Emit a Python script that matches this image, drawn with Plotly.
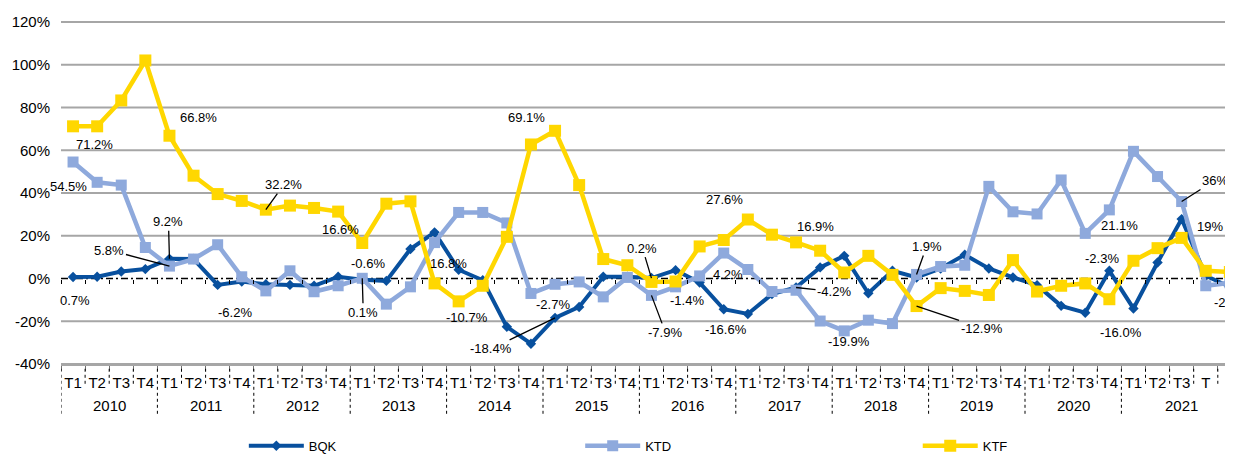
import plotly.graph_objects as go

# ---------------- data ----------------
quarter_labels = ["T1", "T2", "T3", "T4"] * 11 + ["T1", "T2", "T3", "T", "N"]
year_labels = ["2010", "2011", "2012", "2013", "2014", "2015",
               "2016", "2017", "2018", "2019", "2020", "2021"]
year_spans = [4, 4, 4, 4, 4, 4, 4, 4, 4, 4, 4, 5]

bqk = [0.7, 0.8, 3.3, 4.4, 9.2, 9.1, -3.0, -1.4, -2.7, -3.0,
       -3.4, 0.8, -0.6, -1.1, 13.8, 21.6, 4.1, -0.8, -22.6, -30.5,
       -18.4, -13.3, 0.8, 0.8, 0.2, 3.9, -1.9, -14.4, -16.6, -7.3,
       -4.2, 5.2, 10.6, -6.9, 3.6, 0.5, 4.7, 11.1, 4.7, 0.5,
       -3.1, -12.8, -16.0, 3.6, -14.0, 7.5, 27.8, 1.3, -3.9]
ktd = [54.5, 45.0, 43.7, 14.5, 5.8, 9.1, 15.8, 0.8, -5.8, 3.6,
       -6.2, -3.4, 0.1, -12.0, -3.9, 16.8, 30.9, 30.9, 26.0, -7.0,
       -2.7, -1.6, -8.6, 0.5, -7.9, -3.9, 1.2, 11.9, 4.2, -6.1,
       -5.5, -19.9, -24.5, -19.5, -21.1, 1.9, 5.6, 6.2, 43.1, 31.2,
       30.2, 46.1, 21.1, 32.1, 59.5, 47.7, 36.0, -3.4, -2.0]
ktf = [71.2, 71.2, 83.3, 102.0, 66.8, 48.1, 39.5, 36.3, 32.2, 34.1,
       33.0, 31.3, 16.6, 35.0, 36.1, -2.3, -10.7, -3.4, 19.5, 62.7,
       69.1, 43.7, 9.1, 6.2, -1.6, -1.4, 15.0, 18.0, 27.6, 20.5,
       16.9, 13.0, 2.8, 10.6, 1.7, -12.9, -4.5, -5.8, -7.7, 8.6,
       -6.1, -3.4, -2.3, -9.7, 8.3, 14.2, 19.0, 3.6, 3.0]

series_names = ["BQK", "KTD", "KTF"]

y_tick_vals = [-40, -20, 0, 20, 40, 60, 80, 100, 120]
y_tick_text = ["-40%", "-20%", "0%", "20%", "40%", "60%", "80%", "100%", "120%"]

# data labels: series, point index, text, offset right (px), offset down (px), leader line
point_labels = [
    ("KTF", 0, "71.2%", 21, 18, False),
    ("KTD", 0, "54.5%", -5, 24, False),
    ("KTF", 4, "66.8%", 29, -18, False),
    ("KTF", 8, "32.2%", 18, -25, True),
    ("KTF", 12, "16.6%", -22, -14, False),
    ("BQK", 4, "9.2%", -1, -37, True),
    ("KTD", 4, "5.8%", -60, -16, True),
    ("BQK", 0, "0.7%", 2, 23, False),
    ("KTD", 10, "-6.2%", -79, 21, False),
    ("BQK", 12, "-0.6%", 6, -16, False),
    ("KTD", 12, "0.1%", 1, 34, True),
    ("KTD", 15, "16.8%", 14, 21, False),
    ("KTF", 16, "-10.7%", 8, 16, False),
    ("KTF", 20, "69.1%", -29, -13, False),
    ("BQK", 20, "-18.4%", -64, 31, True),
    ("KTD", 20, "-2.7%", -2, 20, False),
    ("BQK", 24, "0.2%", -9, -30, True),
    ("KTD", 24, "-7.9%", 14, 37, True),
    ("KTF", 25, "-1.4%", 11, 19, False),
    ("BQK", 28, "-16.6%", -22, 16, False),
    ("KTF", 28, "27.6%", -23, -20, False),
    ("KTD", 28, "4.2%", -20, 5, False),
    ("KTF", 30, "16.9%", 19, -16, False),
    ("BQK", 30, "-4.2%", 38, 4, True),
    ("KTD", 31, "-19.9%", 29, 20, False),
    ("KTD", 35, "1.9%", 10, -28, True),
    ("KTF", 35, "-12.9%", 65, 22, True),
    ("KTD", 42, "21.1%", 34, -8, False),
    ("KTF", 42, "-2.3%", 17, -25, False),
    ("BQK", 42, "-16.0%", 36, 20, False),
    ("KTD", 46, "36%", 33, -21, True),
    ("KTF", 46, "19%", 28, -11, False),
    ("KTF", 48, "3%", 7, -19, False),
    ("KTD", 48, "-2%", -4, 20, False),
]

# ---------------- styling ----------------
FONT = "Liberation Sans, Arial, sans-serif"
colors = {"BQK": "#08509E", "KTD": "#8EA9DC", "KTF": "#FFD700"}
widths = {"BQK": 4, "KTD": 4.5, "KTF": 4.5}
symbols = {"BQK": "diamond", "KTD": "square", "KTF": "square"}
msizes = {"BQK": 8, "KTD": 11, "KTF": 12}
legend_ids = {"BQK": "legend", "KTD": "legend2", "KTF": "legend3"}
legend_x = {"BQK": 0.156, "KTD": 0.443, "KTF": 0.731}
GRID = "#A6A6A6"

# the page body has an 8px default margin: the figure is sized to fill the rest
PAGE_OFFSET = 8
FIG_W, FIG_H = 1233 - PAGE_OFFSET, 454 - PAGE_OFFSET
M_L, M_T = 61 - PAGE_OFFSET, 22 - PAGE_OFFSET
PLOT_H = 341.6
M_B = FIG_H - M_T - PLOT_H
PLOT_W = FIG_W - M_L

values = {"BQK": bqk, "KTD": ktd, "KTF": ktf}
x_idx = list(range(len(quarter_labels)))
n = len(x_idx)
y_min, y_max = y_tick_vals[0], y_tick_vals[-1]
x_range = [-0.5, -0.5 + PLOT_W / 24.1]

fig = go.Figure()
for name in series_names:
    fig.add_trace(go.Scatter(
        x=x_idx, y=values[name], name=name, mode="lines+markers",
        line=dict(color=colors[name], width=widths[name]),
        marker=dict(symbol=symbols[name], size=msizes[name], color=colors[name]),
        legend=legend_ids[name], hoverinfo="skip",
    ))

# dummy trace on overlay axis that carries the tick marks at 0%
fig.add_trace(go.Scatter(x=[0], y=[None], xaxis="x2", mode="lines",
                         showlegend=False, hoverinfo="skip"))

shapes = []
# horizontal gridlines (all ticks except 0, which gets the dash-dot axis line)
for v in y_tick_vals:
    yp = (v - y_min) / (y_max - y_min)
    if v == 0:
        shapes.append(dict(type="line", xref="paper", yref="paper", x0=0, x1=1,
                           y0=yp, y1=yp, layer="below",
                           line=dict(color="black", width=1.5, dash="7px,3px,2px,3px")))
    else:
        shapes.append(dict(type="line", xref="paper", yref="paper", x0=0, x1=1,
                           y0=yp, y1=yp, layer="below",
                           line=dict(color=GRID, width=2)))

# category separators below the axis
year_starts = []
s = 0
for span in year_spans:
    year_starts.append(s)
    s += span
for b in range(n):
    long_sep = b in year_starts
    shapes.append(dict(type="line", xref="x", yref="paper",
                       x0=b - 0.5, x1=b - 0.5, y0=-0.014,
                       y1=-0.146 if long_sep else -0.064,
                       line=dict(color="black", width=1, dash="3px,3px")))

annotations = []
for lab, start, span in zip(year_labels, year_starts, year_spans):
    annotations.append(dict(x=start + (span - 1) / 2, y=-0.12, xref="x", yref="paper",
                            text=lab, showarrow=False, yanchor="middle",
                            font=dict(family=FONT, size=15, color="black")))

for name, k, txt, dx, dy, leader in point_labels:
    v = values[name][k]
    if leader:
        annotations.append(dict(x=k, y=v, xref="x", yref="y", text=txt,
                                showarrow=True, arrowhead=0, arrowwidth=1.3,
                                arrowcolor="black", ax=dx, ay=dy, standoff=0,
                                font=dict(family=FONT, size=13, color="black")))
    else:
        annotations.append(dict(x=k, y=v, xref="x", yref="y", text=txt,
                                showarrow=False, xshift=dx, yshift=-dy,
                                font=dict(family=FONT, size=13, color="black")))

legend_style = dict(orientation="h", xanchor="left", y=-0.239, yanchor="middle",
                    itemwidth=55, font=dict(family=FONT, size=13, color="black"),
                    bgcolor="rgba(0,0,0,0)")
layout_legends = {legend_ids[nm]: dict(legend_style, x=legend_x[nm]) for nm in series_names}

fig.update_layout(
    width=FIG_W, height=FIG_H,
    margin=dict(l=M_L, r=0, t=M_T, b=M_B, autoexpand=False),
    paper_bgcolor="white", plot_bgcolor="white",
    font=dict(family=FONT, size=15, color="black"),
    showlegend=True,
    xaxis=dict(
        range=x_range, tickmode="array", tickvals=x_idx, ticktext=quarter_labels,
        ticks="", showgrid=False, zeroline=False,
        showline=True, linecolor=GRID, linewidth=2,
        tickfont=dict(family=FONT, size=15, color="black"),
        ticklabelstandoff=4, ticklabeloverflow="allow",
        minor=dict(tickmode="linear", tick0=-0.5, dtick=1, ticks="outside",
                   ticklen=5, tickwidth=1, tickcolor="#707070", showgrid=False),
    ),
    xaxis2=dict(
        overlaying="x", anchor="free",
        position=(0 - y_min) / (y_max - y_min),
        range=x_range, tickmode="linear", tick0=-0.5, dtick=1,
        ticks="outside", ticklen=4, tickwidth=1, tickcolor="black",
        showticklabels=False, showgrid=False, zeroline=False, showline=False,
    ),
    yaxis=dict(
        range=[y_min, y_max], tickmode="array", tickvals=y_tick_vals, ticktext=y_tick_text,
        showgrid=False, zeroline=False,
        ticks="", ticklabelstandoff=10,
        tickfont=dict(family=FONT, size=15, color="black"),
    ),
    shapes=shapes,
    annotations=annotations,
    **layout_legends,
)

fig.write_html("out.html")
